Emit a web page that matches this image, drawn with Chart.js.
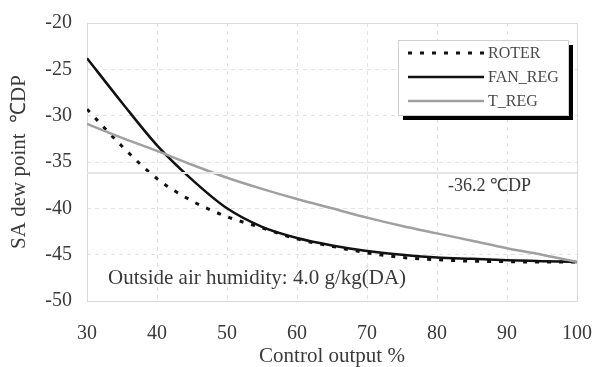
<!DOCTYPE html>
<html lang="en">
<head>
    <meta charset="UTF-8">
    <title>SA dew point vs control output</title>
    <script src="https://cdn.jsdelivr.net/npm/chart.js"></script>
    <style>
        html, body { margin: 0; padding: 0; background: #fff; }
        #wrap { width: 595px; height: 367px; position: relative; }
    </style>
</head>
<body>
<div id="wrap"><canvas id="chart" width="595" height="367"></canvas></div>
<script>
    // Data
    const output = [30, 35, 40, 45, 50, 55, 60, 65, 70, 75, 80, 85, 90, 95, 100];
    const roter  = [-29.3, -33.3, -36.8, -39.2, -40.9, -42.1, -43.3, -44.1, -44.8, -45.3, -45.55, -45.7, -45.75, -45.8, -45.8];
    const fanReg = [-23.8, -28.6, -33.2, -36.9, -40.0, -42.0, -43.2, -44.0, -44.6, -45.0, -45.3, -45.45, -45.6, -45.7, -45.8];
    const tReg   = [-30.9, -32.4, -33.8, -35.3, -36.7, -37.9, -39.0, -40.0, -41.0, -41.9, -42.7, -43.5, -44.3, -45.0, -45.8];
    const refDewPoint = -36.2;
    const xTicks = [30, 40, 50, 60, 70, 80, 90, 100];
    const yTicks = [-50, -45, -40, -35, -30, -25, -20];

    const FONT = "'Liberation Serif', 'Times New Roman', serif";
    const TEXT = '#3a3a3a';
    const pts = ys => output.map((x, i) => ({ x: x, y: ys[i] }));

    // plot border, text notes and the boxed legend with its shadow
    const decor = {
        id: 'decor',
        beforeDatasetsDraw(chart) {
            const { ctx, chartArea: a } = chart;
            ctx.save();
            ctx.strokeStyle = '#d9d9d9';
            ctx.lineWidth = 1;
            ctx.strokeRect(a.left + 0.5, a.top + 0.5, a.right - a.left, a.bottom - a.top);
            ctx.restore();
        },
        afterDatasetsDraw(chart) {
            const { ctx } = chart;
            ctx.save();
            ctx.fillStyle = TEXT;
            ctx.textBaseline = 'middle';
            ctx.textAlign = 'left';
            ctx.font = '18px ' + FONT;
            ctx.fillText('-36.2 \u2103DP', 448, 186);
            ctx.font = '21px ' + FONT;
            ctx.fillText('Outside air humidity: 4.0 g/kg(DA)', 108, 278);

            // legend
            ctx.fillStyle = '#000';
            ctx.fillRect(403, 45, 170, 75);
            ctx.fillStyle = '#fff';
            ctx.fillRect(398, 40, 170, 75);
            ctx.strokeStyle = '#d0d0d0';
            ctx.lineWidth = 1;
            ctx.strokeRect(398.5, 40.5, 170, 75);
            const items = [
                { label: 'ROTER', color: '#111', width: 3, dash: [4, 8], y: 53 },
                { label: 'FAN_REG', color: '#111', width: 2.5, dash: [], y: 77 },
                { label: 'T_REG', color: '#a0a0a0', width: 2.5, dash: [], y: 101 }
            ];
            items.forEach(it => {
                ctx.beginPath();
                ctx.setLineDash(it.dash);
                ctx.strokeStyle = it.color;
                ctx.lineWidth = it.width;
                ctx.moveTo(408, it.y);
                ctx.lineTo(484, it.y);
                ctx.stroke();
                ctx.setLineDash([]);
                ctx.fillStyle = '#4a4a4a';
                ctx.font = '16px ' + FONT;
                ctx.fillText(it.label, 488, it.y + 1);
            });
            ctx.restore();
        }
    };

    new Chart(document.getElementById('chart'), {
        type: 'line',
        data: {
            datasets: [
                {
                    label: 'ref',
                    data: [{ x: 30, y: refDewPoint }, { x: 100, y: refDewPoint }],
                    borderColor: '#e6e6e6',
                    borderWidth: 2,
                    pointRadius: 0
                },
                {
                    label: 'T_REG',
                    data: pts(tReg),
                    borderColor: '#a0a0a0',
                    borderWidth: 2.5,
                    pointRadius: 0,
                    cubicInterpolationMode: 'monotone'
                },
                {
                    label: 'FAN_REG',
                    data: pts(fanReg),
                    borderColor: '#111',
                    borderWidth: 2.5,
                    pointRadius: 0,
                    cubicInterpolationMode: 'monotone'
                },
                {
                    label: 'ROTER',
                    data: pts(roter),
                    borderColor: '#111',
                    borderWidth: 3,
                    borderDash: [4, 8],
                    pointRadius: 0,
                    cubicInterpolationMode: 'monotone'
                }
            ]
        },
        options: {
            responsive: false,
            animation: false,
            layout: { padding: { top: 23, right: 18, left: 0, bottom: 0 } },
            plugins: {
                legend: { display: false },
                tooltip: { enabled: false }
            },
            scales: {
                x: {
                    type: 'linear',
                    min: 30,
                    max: 100,
                    afterBuildTicks: s => { s.ticks = xTicks.map(v => ({ value: v })); },
                    afterFit: s => { s.height = 66; s.paddingLeft = 0; s.paddingRight = 0; },
                    grid: { color: '#e2e2e2', drawTicks: false },
                    border: { display: false, dash: [4, 4] },
                    ticks: { color: TEXT, padding: 21, font: { family: FONT, size: 20 } },
                    title: {
                        display: true,
                        text: 'Control output %',
                        color: TEXT,
                        padding: { top: 0, bottom: 0 },
                        font: { family: FONT, size: 21, lineHeight: 1.0 }
                    }
                },
                y: {
                    min: -50,
                    max: -20,
                    afterBuildTicks: s => { s.ticks = yTicks.map(v => ({ value: v })); },
                    afterFit: s => { s.width = 87; s.paddingTop = 0; s.paddingBottom = 0; },
                    grid: { color: '#e2e2e2', drawTicks: false },
                    border: { display: false, dash: [4, 4] },
                    ticks: { color: TEXT, padding: 15, font: { family: FONT, size: 20 } },
                    title: {
                        display: true,
                        text: 'SA dew point  \u2103DP',
                        color: TEXT,
                        padding: { top: 7, bottom: 0 },
                        font: { family: FONT, size: 21 }
                    }
                }
            }
        },
        plugins: [decor]
    });
</script>
</body>
</html>
